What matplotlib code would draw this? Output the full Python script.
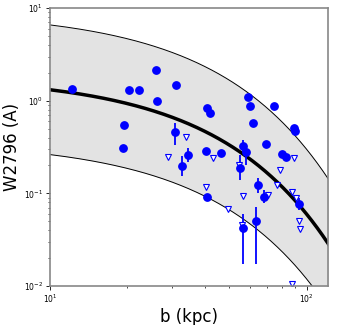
import numpy as np
import matplotlib.pyplot as plt

# detections (b in kpc, W2796 in A)
b_det = [12.15, 20.3, 22.2, 19.45, 19.27, 25.8, 31.1, 26.0, 40.9, 42.2,
         46.2, 40.7, 59.3, 60.4, 74.6, 62.0, 88.9, 90.0, 69.5, 80.0,
         83.3, 41.0]
w_det = [1.335, 1.30, 1.31, 0.545, 0.307, 2.16, 1.485, 1.0, 0.845, 0.746,
         0.272, 0.290, 1.094, 0.887, 0.881, 0.573, 0.513, 0.473, 0.340, 0.267,
         0.246, 0.0916]

# detections with error bars
b_err = [30.6, 34.5, 56.7, 58.1, 32.8, 55.1, 64.9, 68.0, 93.5, 63.3, 56.4]
w_err = [0.461, 0.257, 0.326, 0.283, 0.1956, 0.187, 0.1225, 0.0923, 0.0770, 0.0504, 0.042]
w_hi = [0.581, 0.310, 0.378, 0.310, 0.254, 0.260, 0.147, 0.109, 0.0893, 0.0714, 0.060]
w_lo = [0.334, 0.219, 0.281, 0.203, 0.1544, 0.140, 0.101, 0.0794, 0.0663, 0.0173, 0.0173]

# upper limits
b_lim = [33.8, 28.9, 43.1, 40.4, 49.3, 54.3, 56.3, 56.1, 70.6, 76.9,
         78.9, 87.5, 90.7, 89.1, 93.5, 94.1, 88.1]
w_lim = [0.407, 0.249, 0.2434, 0.1175, 0.068, 0.203, 0.0927, 0.0456, 0.095, 0.122,
         0.177, 0.1045, 0.0887, 0.2386, 0.0498, 0.0416, 0.0104]

# log-linear fit: log10 W = a + s*b, with +-0.7 dex band
fit_a, fit_s, band = 0.268, -0.01492, 0.70

fig = plt.figure(figsize=(3.38, 3.25), dpi=100)
ax = fig.add_axes([0.148, 0.12, 0.822, 0.855])

bb = np.linspace(10, 125, 300)
logw = fit_a + fit_s * bb
ax.fill_between(bb, 10**(logw - band), 10**(logw + band), color='#e3e3e3', lw=0)
ax.plot(bb, 10**(logw + band), color='k', lw=0.7)
ax.plot(bb, 10**(logw - band), color='k', lw=0.7)
ax.plot(bb, 10**logw, color='k', lw=2.5)

ax.plot(b_det, w_det, 'o', color='blue', ms=5.3, mec='blue')
yerr = [np.array(w_err) - np.array(w_lo), np.array(w_hi) - np.array(w_err)]
ax.errorbar(b_err, w_err, yerr=yerr, fmt='o', color='blue', ms=5.3, elinewidth=1.3, capsize=0)
ax.plot(b_lim, w_lim, 'v', mfc='white', mec='blue', ms=5, mew=0.8)

ax.set_xscale('log')
ax.set_yscale('log')
ax.set_xlim(10, 121)
ax.set_ylim(0.01, 10)
ax.set_xlabel('b (kpc)', fontsize=12, labelpad=2)
ax.set_ylabel('W2796 (A)', fontsize=12, labelpad=2)
ax.tick_params(labelsize=5.5, length=3, width=0.6, pad=2)
ax.tick_params(which='minor', length=1.5, width=0.5)
for s in ax.spines.values():
    s.set_color('#888888')
    s.set_linewidth(1.2)

fig.savefig('out.png', dpi=100)
